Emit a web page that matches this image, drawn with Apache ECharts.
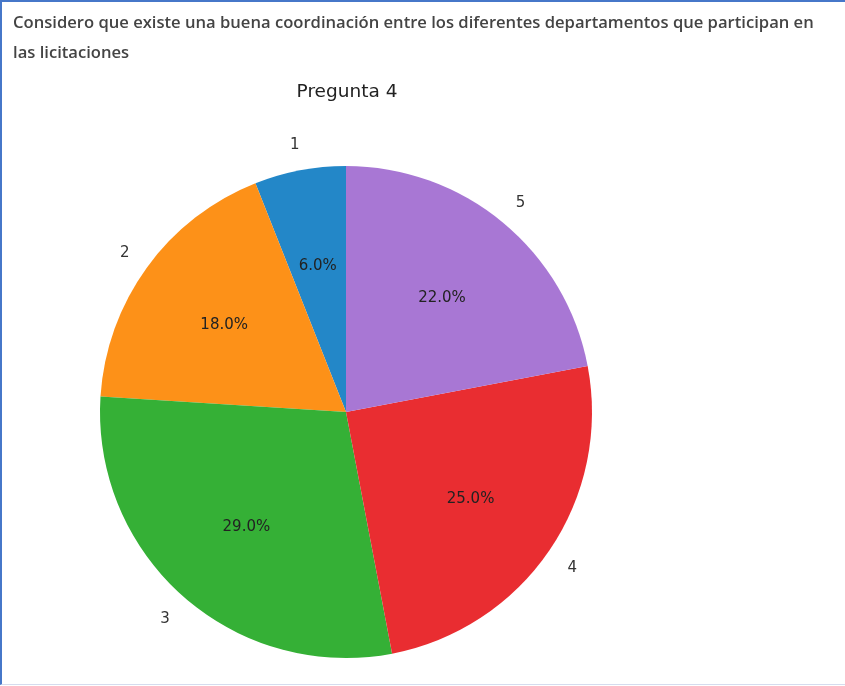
<!DOCTYPE html>
<html>
<head>
<meta charset="utf-8">
<script src="https://cdn.jsdelivr.net/npm/echarts@6/dist/echarts.min.js"></script>
<style>
  html, body { margin: 0; padding: 0; background: #fff; }
  #frame {
    position: absolute; left: 0; top: 0;
    width: 843px; height: 682px;
    border-top: 2px solid #4677c9;
    border-left: 2px solid #4677c9;
    border-bottom: 1px solid #d5dcee;
  }
  #chart { position: absolute; left: 0; top: 0; width: 845px; height: 686px; }
</style>
</head>
<body>
<div id="frame"></div>
<div id="chart"></div>
<script>
// question text + chart title
const questionLines = [
  'Considero que existe una buena coordinación entre los diferentes departamentos que participan en',
  'las licitaciones'
];
const chartTitle = 'Pregunta 4';

// answers 1..5 and their share (%)
const categories = ['1', '2', '3', '4', '5'];
const values     = [6, 18, 29, 25, 22];
const colors     = ['#2387c8', '#fd9118', '#35b036', '#e92d31', '#a877d4'];

const CX = 346, CY = 412, R = 246;
const MPL_FONT = "'DejaVu Sans', sans-serif";

const pieData = categories.map((name, i) => ({
  name, value: values[i], itemStyle: { color: colors[i] }
}));
const ghostData = categories.map((name, i) => ({ name, value: values[i] }));

const chart = echarts.init(document.getElementById('chart'));
chart.setOption({
  animation: false,
  title: [
    {
      text: questionLines.join('\n'),
      left: 8, top: 3,
      textStyle: {
        fontFamily: "'Open Sans', sans-serif", fontWeight: 600, fontSize: 16.6,
        color: '#444', lineHeight: 30
      }
    },
    {
      text: chartTitle,
      left: CX - 4, top: 78, textAlign: 'center',
      textStyle: {
        fontFamily: MPL_FONT, fontWeight: 'normal', fontSize: 18.5, color: '#222'
      }
    }
  ],
  series: [
    // the pie itself
    {
      type: 'pie',
      center: [CX, CY],
      radius: [0, R],
      startAngle: 90,
      clockwise: false,
      silent: true,
      label: { show: false },
      labelLine: { show: false },
      itemStyle: { borderWidth: 0 },
      data: pieData
    },
    // invisible ring: percent labels at 0.6 R
    {
      type: 'pie',
      center: [CX, CY],
      radius: [0, R * 1.2],
      startAngle: 90,
      clockwise: false,
      silent: true,
      z: 3,
      itemStyle: { color: 'rgba(0,0,0,0)' },
      label: {
        show: true, position: 'inside',
        formatter: p => p.value.toFixed(1) + '%',
        fontFamily: MPL_FONT, fontSize: 15, color: '#222',
        offset: [0, 2]
      },
      labelLine: { show: false },
      data: ghostData
    },
    // invisible ring: category labels at 1.1 R
    {
      type: 'pie',
      center: [CX, CY],
      radius: [R, R * 1.2],
      startAngle: 90,
      clockwise: false,
      silent: true,
      z: 3,
      itemStyle: { color: 'rgba(0,0,0,0)' },
      label: {
        show: true, position: 'inside',
        formatter: '{b}',
        fontFamily: MPL_FONT, fontSize: 15, color: '#333',
        offset: [0, 2]
      },
      labelLine: { show: false },
      data: ghostData
    }
  ]
});
</script>
</body>
</html>
